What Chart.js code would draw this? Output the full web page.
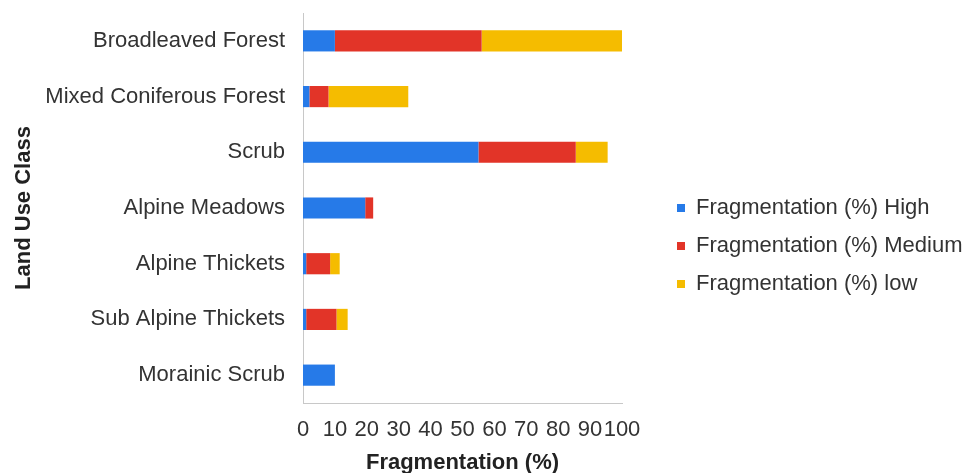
<!DOCTYPE html>
<html>
<head>
<meta charset="utf-8">
<script src="https://cdn.jsdelivr.net/npm/chart.js@4"></script>
<style>
    html, body { margin: 0; padding: 0; background: #fff; }
    #wrap { width: 969px; height: 473px; }
</style>
</head>
<body>
<div id="wrap"><canvas id="chart"></canvas></div>
<script>
const landUse = ['Broadleaved Forest', 'Mixed Coniferous Forest', 'Scrub', 'Alpine Meadows', 'Alpine Thickets', 'Sub Alpine Thickets', 'Morainic Scrub'];
const high = [10, 2, 55, 19.5, 1, 1, 10];
const medium = [46, 6, 30.5, 2.5, 7.5, 9.5, 0];
const low = [44, 25, 10, 0, 3, 3.5, 0];
const seriesNames = ['Fragmentation (%) High', 'Fragmentation (%) Medium', 'Fragmentation (%) low'];
const seriesColors = ['rgb(38,122,232)', 'rgb(226,52,40)', 'rgb(245,188,0)'];

const font = { family: '"Liberation Sans", Arial, sans-serif', size: 22 };
const bold = { family: '"Liberation Sans", Arial, sans-serif', size: 22, weight: 'bold' };

const chartData = {
    labels: landUse,
    datasets: [high, medium, low].map((values, i) => ({
        label: seriesNames[i],
        data: values,
        backgroundColor: seriesColors[i],
        borderWidth: 0,
        categoryPercentage: 1,
        barPercentage: 0.38
    }))
};

const config = {
    type: 'bar',
    data: chartData,
    options: {
        indexAxis: 'y',
        responsive: true,
        maintainAspectRatio: false,
        animation: false,
        layout: { padding: { top: 13, right: 0, bottom: 0, left: 0 } },
        plugins: {
            legend: {
                position: 'right',
                maxWidth: 308,
                // empty title, only nudges the items down a little
                title: { display: true, text: '', padding: 0, font: { size: 5 } },
                labels: {
                    font: font,
                    color: '#333',
                    boxWidth: 8,
                    boxHeight: 8,
                    padding: 16
                }
            },
            tooltip: { enabled: false }
        },
        scales: {
            x: {
                stacked: true,
                min: 0,
                max: 100,
                grid: { display: false, drawTicks: false },
                border: { display: true, color: '#c8c8c8' },
                ticks: { stepSize: 10, autoSkip: false, maxRotation: 0, padding: 14, font: font, color: '#333' },
                title: { display: true, text: 'Fragmentation (%)', font: bold, color: '#222', padding: { top: 0, bottom: -3 } },
                afterFit: (scale) => { scale.height = 70; }
            },
            y: {
                stacked: true,
                grid: { display: false, drawTicks: false },
                border: { display: true, color: '#c8c8c8' },
                ticks: { padding: 18, font: font, color: '#333' },
                title: { display: true, text: 'Land Use Class', font: bold, color: '#222', padding: { top: 11, bottom: 0 } },
                afterFit: (scale) => {
                    scale.width = 303;
                    scale.paddingTop = 0;
                    scale.paddingBottom = 0;
                }
            },
            // empty axis that only keeps the gap between plot and legend
            gap: {
                axis: 'y',
                position: 'right',
                type: 'linear',
                display: true,
                grid: { display: false },
                border: { display: false },
                ticks: { display: false },
                afterFit: (scale) => { scale.width = 39; }
            }
        }
    }
};

const ctx = document.getElementById('chart').getContext('2d');
const myChart = new Chart(ctx, config);
</script>
</body>
</html>
